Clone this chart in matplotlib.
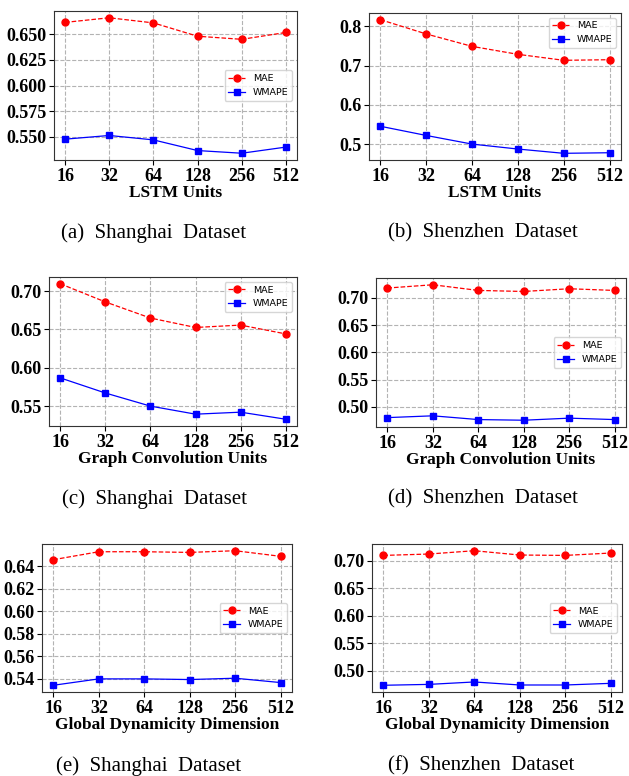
import matplotlib
matplotlib.use('Agg')
import matplotlib.pyplot as plt

units = ['16', '32', '64', '128', '256', '512']

# (a) LSTM units, Shanghai
lstm_sh_mae = [0.6615, 0.666, 0.661, 0.648, 0.645, 0.6517]
lstm_sh_wmape = [0.5477, 0.5513, 0.547, 0.5366, 0.534, 0.540]
# (b) LSTM units, Shenzhen
lstm_sz_mae = [0.817, 0.7806, 0.749, 0.7287, 0.7135, 0.715]
lstm_sz_wmape = [0.5454, 0.522, 0.500, 0.4874, 0.4765, 0.478]
# (c) graph conv units, Shanghai
gcn_sh_mae = [0.7096, 0.6859, 0.6649, 0.6526, 0.6557, 0.6442]
gcn_sh_wmape = [0.5868, 0.5671, 0.550, 0.5395, 0.5421, 0.5329]
# (d) graph conv units, Shenzhen
gcn_sz_mae = [0.718, 0.724, 0.7136, 0.7117, 0.7167, 0.7136]
gcn_sz_wmape = [0.480, 0.4833, 0.4764, 0.4752, 0.479, 0.4764]
# (e) global dynamicity dim, Shanghai
gd_sh_mae = [0.646, 0.6531, 0.6531, 0.6525, 0.654, 0.649]
gd_sh_wmape = [0.534, 0.5397, 0.5397, 0.5391, 0.5403, 0.5364]
# (f) global dynamicity dim, Shenzhen
gd_sz_mae = [0.7097, 0.7122, 0.7182, 0.7104, 0.7097, 0.714]
gd_sz_wmape = [0.474, 0.4756, 0.480, 0.4745, 0.4745, 0.4775]

W, H = 629, 776
fig = plt.figure(figsize=(W / 100, H / 100), dpi=100)

serif = ['Liberation Serif', 'DejaVu Serif']

def px_axes(l, r, t, b):
    return fig.add_axes([l / W, 1 - b / H, (r - l) / W, (b - t) / H])

def panel(rect, mae, wmape, xlabel, caption, cap_xy, legend_loc, yticks, fmt):
    ax = px_axes(*rect)
    x = range(len(units))
    ax.plot(x, mae, 'o--', color='red', lw=0.9, ms=5, label='MAE')
    ax.plot(x, wmape, 's-', color='blue', lw=0.9, ms=5, label='WMAPE')
    ax.set_xticks(list(x))
    ax.set_xticklabels(units)
    ax.set_yticks(yticks)
    ax.set_yticklabels([fmt % v for v in yticks])
    for lab in ax.get_xticklabels() + ax.get_yticklabels():
        lab.set_fontfamily(serif)
        lab.set_fontweight('bold')
        lab.set_fontsize(13)
    ax.tick_params(pad=2)
    ax.set_xlabel(xlabel, fontfamily=serif, fontweight='bold', fontsize=12.5, labelpad=0)
    ax.grid(True, linestyle='--', color='0.7', lw=0.8)
    for s in ax.spines.values():
        s.set_color('0.2')
    ax.legend(loc=legend_loc, prop={'family': 'DejaVu Sans', 'size': 6.8},
              handlelength=1.8)
    fig.text(cap_xy[0] / W, 1 - cap_xy[1] / H, caption, family=serif,
             fontsize=15, ha='center', va='center')
    return ax

panel((54, 297, 11, 160), lstm_sh_mae, lstm_sh_wmape, 'LSTM Units',
      '(a)  Shanghai  Dataset', (154, 233), 'center right',
      [0.550, 0.575, 0.600, 0.625, 0.650], '%.3f')
panel((369, 621, 13, 160), lstm_sz_mae, lstm_sz_wmape, 'LSTM Units',
      '(b)  Shenzhen  Dataset', (483, 233), 'upper right',
      [0.5, 0.6, 0.7, 0.8], '%.1f')
panel((49, 297, 277, 426), gcn_sh_mae, gcn_sh_wmape, 'Graph Convolution Units',
      '(c)  Shanghai  Dataset', (154, 499), 'upper right',
      [0.55, 0.60, 0.65, 0.70], '%.2f')
panel((376, 626, 278, 427), gcn_sz_mae, gcn_sz_wmape, 'Graph Convolution Units',
      '(d)  Shenzhen  Dataset', (483, 499), 'center right',
      [0.50, 0.55, 0.60, 0.65, 0.70], '%.2f')
panel((42, 292, 544, 692), gd_sh_mae, gd_sh_wmape, 'Global Dynamicity Dimension',
      '(e)  Shanghai  Dataset', (149, 766), 'center right',
      [0.54, 0.56, 0.58, 0.60, 0.62, 0.64], '%.2f')
panel((372, 622, 544, 692), gd_sz_mae, gd_sz_wmape, 'Global Dynamicity Dimension',
      '(f)  Shenzhen  Dataset', (481, 766), 'center right',
      [0.50, 0.55, 0.60, 0.65, 0.70], '%.2f')

fig.savefig('out.png', dpi=100)
